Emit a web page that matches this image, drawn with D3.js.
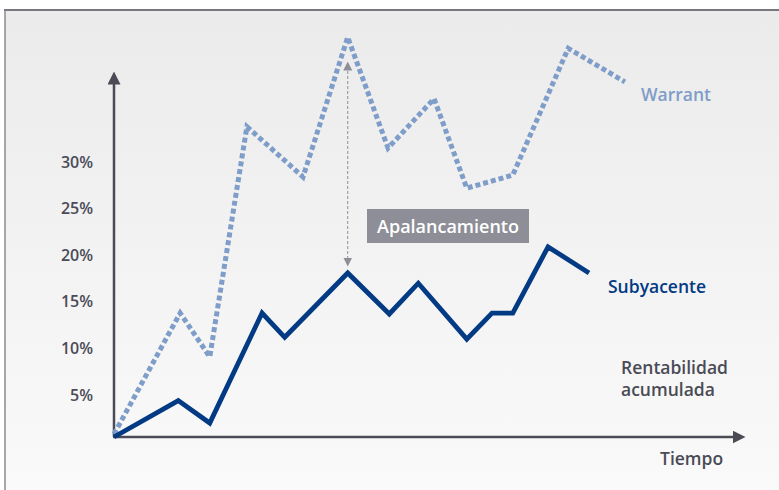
<!DOCTYPE html>
<html lang="es">
<head>
<meta charset="utf-8">
<title>Warrant vs Subyacente</title>
<script src="https://cdn.jsdelivr.net/npm/d3@7"></script>
<style>
  body { margin: 0; background: #fff; }
  text { font-family: "Open Sans", "Noto Sans", sans-serif; }
</style>
</head>
<body>
<script>
// tiempo (unidades arbitrarias 0-100) y rentabilidad acumulada (%)
var subyTime  = [0, 10.2, 15.2, 23.5, 27.1, 37.1, 43.7, 48.3, 56.0, 60.0, 63.3, 68.9, 75.4];
var subyValue = [0, 3.9, 1.5, 13.3, 10.7, 17.6, 13.2, 16.5, 10.5, 13.3, 13.3, 20.4, 17.6];

var warrTime  = [0, 10.5, 15.2, 21.1, 30.0, 37.1, 43.5, 50.8, 56.0, 63.3, 72.1, 81.1];
var warrValue = [0.3, 13.3, 8.6, 33.3, 27.9, 42.9, 31.0, 36.3, 26.7, 28.1, 41.7, 38.1];

var yTicks = [5, 10, 15, 20, 25, 30];
var leverageAt = 37.1;   // momento marcado con "Apalancamiento"

var w = 779, h = 490;
var x0 = 114, y0 = 437;

var xScale = d3.scaleLinear().domain([0, 100]).range([x0, 744]);
var yScale = d3.scaleLinear().domain([0, 35]).range([y0, y0 - 35 * 9.32]);

var svg = d3.select("body").append("svg")
  .attr("width", w).attr("height", h);

var defs = svg.append("defs");
var grad = defs.append("linearGradient").attr("id", "bg")
  .attr("x1", 0).attr("y1", 0).attr("x2", 0).attr("y2", 1);
grad.append("stop").attr("offset", "0%").attr("stop-color", "#ebebec");
grad.append("stop").attr("offset", "100%").attr("stop-color", "#fafafa");

// arrowheads
function marker(id, color, size) {
  defs.append("marker").attr("id", id)
    .attr("viewBox", "0 0 10 10").attr("refX", 5).attr("refY", 5)
    .attr("markerWidth", size).attr("markerHeight", size)
    .attr("markerUnits", "userSpaceOnUse")
    .attr("orient", "auto-start-reverse")
    .append("path").attr("d", "M0,0 L10,5 L0,10 z").attr("fill", color);
}
marker("axisArrow", "#4a4b55", 13);
marker("levArrow", "#8e8f96", 9);

// background frame
svg.append("rect").attr("x", 5).attr("y", 10).attr("width", w).attr("height", h)
  .attr("fill", "url(#bg)");
svg.append("line").attr("x1", 4).attr("x2", w).attr("y1", 10).attr("y2", 10)
  .attr("stroke", "#77777d").attr("stroke-width", 2);
svg.append("line").attr("x1", 5).attr("x2", 5).attr("y1", 10).attr("y2", h)
  .attr("stroke", "#8a8a90").attr("stroke-width", 1.5);

// axes
svg.append("line")
  .attr("x1", x0).attr("y1", y0).attr("x2", x0).attr("y2", 78)
  .attr("stroke", "#4a4b55").attr("stroke-width", 2.5)
  .attr("marker-end", "url(#axisArrow)");
svg.append("line")
  .attr("x1", x0 - 1).attr("y1", y0).attr("x2", 739).attr("y2", y0)
  .attr("stroke", "#4a4b55").attr("stroke-width", 2.5)
  .attr("marker-end", "url(#axisArrow)");

// tick labels
var yAxis = d3.axisLeft(yScale).tickValues(yTicks)
  .tickFormat(function(d) { return d + "%"; }).tickSize(0).tickPadding(21);
var gy = svg.append("g").attr("transform", "translate(" + x0 + ",0)").call(yAxis);
gy.select(".domain").remove();
gy.selectAll("text")
  .attr("dy", "0.85em").attr("y", -4)
  .attr("fill", "#4a4b57").attr("font-size", 16).attr("font-weight", 600)
  .style("font-family", "'Open Sans', sans-serif");

// lines
var line = d3.line()
  .x(function(d) { return xScale(d[0]); })
  .y(function(d) { return yScale(d[1]); });

var warr = d3.zip(warrTime, warrValue);
var suby = d3.zip(subyTime, subyValue);

svg.append("path").datum(warr)
  .attr("d", line).attr("fill", "none")
  .attr("stroke", "#7e9dc8").attr("stroke-width", 5)
  .attr("stroke-dasharray", "5,3").attr("stroke-linejoin", "miter");

// leverage arrow
svg.append("line")
  .attr("x1", xScale(leverageAt)).attr("x2", xScale(leverageAt))
  .attr("y1", 66).attr("y2", 262)
  .attr("stroke", "#8e8f96").attr("stroke-width", 1)
  .attr("stroke-dasharray", "3,2")
  .attr("marker-start", "url(#levArrow)")
  .attr("marker-end", "url(#levArrow)");

svg.append("path").datum(suby)
  .attr("d", line).attr("fill", "none")
  .attr("stroke", "#023a83").attr("stroke-width", 4.8)
  .attr("stroke-linejoin", "miter");

// leverage label
svg.append("rect").attr("x", 367).attr("y", 209).attr("width", 162).attr("height", 34)
  .attr("fill", "#8d8e97");
svg.append("text").attr("x", 448).attr("y", 233)
  .attr("text-anchor", "middle").attr("fill", "#fff")
  .attr("font-size", 18).attr("font-weight", 600)
  .text("Apalancamiento");

// series labels
var labelSize = 17.5;
svg.append("text").attr("x", 641).attr("y", 101)
  .attr("fill", "#7e9dc8").attr("font-size", labelSize).attr("font-weight", 600)
  .text("Warrant");
svg.append("text").attr("x", 608).attr("y", 293)
  .attr("fill", "#023a83").attr("font-size", labelSize).attr("font-weight", 600)
  .text("Subyacente");

svg.append("text").attr("x", 621).attr("y", 374)
  .attr("fill", "#4a4b55").attr("font-size", labelSize).attr("font-weight", 600)
  .text("Rentabilidad");
svg.append("text").attr("x", 621).attr("y", 396)
  .attr("fill", "#4a4b55").attr("font-size", labelSize).attr("font-weight", 600)
  .text("acumulada");
svg.append("text").attr("x", 660).attr("y", 465)
  .attr("fill", "#4a4b55").attr("font-size", labelSize).attr("font-weight", 600)
  .text("Tiempo");
</script>
</body>
</html>
